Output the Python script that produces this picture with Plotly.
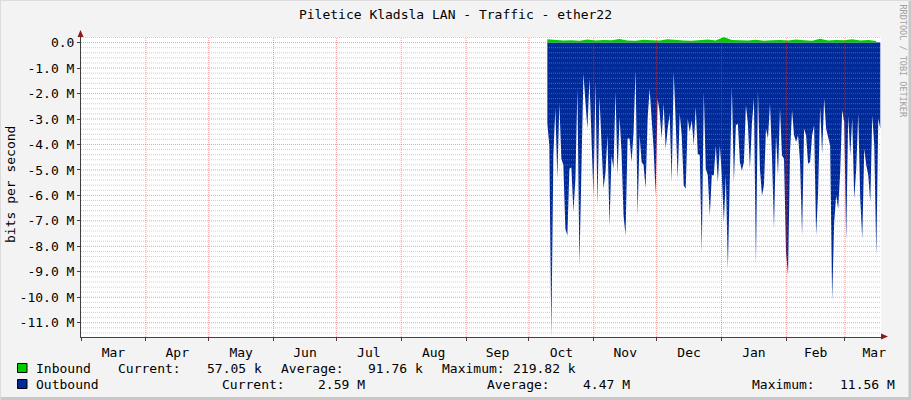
import pandas as pd
import plotly.graph_objects as go

# --- data -------------------------------------------------------------
title = "Piletice Kladsla LAN - Traffic - ether22"

# outbound traffic in Mbit/s, one sample every 23 h (drawn below zero)
outbound_start = "2022-10-09 19:00"
outbound_mbps = [
    3.18, 4.04, 11.56, 4.43, 2.59, 5.35, 2.40, 4.56, 4.82, 7.31,
    7.57, 4.95, 4.89, 6.65, 5.35, 1.81, 8.75, 5.35, 1.22, 2.33,
    3.38, 1.42, 3.64, 6.00, 1.55, 6.39, 2.14, 4.30, 5.74, 5.08,
    3.64, 7.18, 4.43, 4.95, 1.94, 5.21, 2.92, 4.30, 6.79, 7.57,
    3.77,
    3.77, 4.69, 3.51, 1.09, 6.79, 3.64, 4.69, 4.82, 5.74, 2.99,
    1.81, 3.12, 4.17, 6.00, 2.20, 2.73, 3.77, 2.40, 4.17, 3.38,
    2.79, 5.48, 1.15, 3.12, 5.35, 2.79, 3.64, 5.61, 5.74, 2.99,
    3.51, 3.05, 4.04, 2.53, 4.36, 4.43, 8.23, 1.94, 4.95, 5.21,
    6.79, 5.21,
    5.21, 4.04, 5.48, 4.04, 5.21, 7.05, 5.21, 8.88, 5.48, 1.74,
    5.48, 3.25, 3.18, 4.69, 5.02, 4.69, 2.46, 3.18, 4.95, 3.18,
    2.20, 8.75, 1.87, 4.95, 6.00, 5.61, 3.38, 3.77, 2.40, 4.43,
    7.31, 3.64, 5.21, 2.59, 4.43, 4.56, 8.23, 9.14, 4.30, 2.66,
    3.64, 3.90,
    3.64, 4.69, 7.57, 3.38, 3.64, 4.76, 4.69, 3.64, 3.25, 7.57,
    5.87, 2.53, 4.36, 2.20, 3.38, 3.77, 4.04, 10.13, 7.05, 6.00,
    6.52, 5.08, 2.66, 3.12, 7.77, 2.86, 4.43, 2.99, 6.13, 4.95,
    2.79, 6.13, 7.70, 4.17, 4.82, 5.21, 6.26, 2.86, 4.04, 8.36,
    2.99, 3.38,
]

# inbound traffic in Mbit/s, one sample every 92 h
inbound_start = "2022-10-09 19:00"
inbound_mbps = [
    0.13, 0.10, 0.08, 0.09, 0.07, 0.12, 0.08, 0.10, 0.09, 0.14,
    0.08, 0.07, 0.11, 0.09, 0.08, 0.13, 0.10, 0.08, 0.07, 0.09,
    0.12, 0.08, 0.22, 0.10, 0.09, 0.08, 0.11, 0.07, 0.09, 0.10,
    0.08, 0.12, 0.09, 0.07, 0.15, 0.08, 0.10, 0.09, 0.13, 0.08,
    0.10, 0.06,
]

y_ticks = [0, -1, -2, -3, -4, -5, -6, -7, -8, -9, -10, -11]
y_ticktext = ["0.0"] + [f"{v:.1f} M" for v in y_ticks[1:]]

x_start = "2022-03-01"
x_end = "2023-03-18 05:00"

legend_in = ["Inbound", "Current:", "57.05 k", "Average:", "91.76 k", "Maximum:", "219.82 k"]
legend_out = ["Outbound", "Current:", "2.59 M", "Average:", "4.47 M", "Maximum:", "11.56 M"]

# --- layout helpers ---------------------------------------------------
W, H = 911, 400
ML, MR, MT, MB = 81, 30, 37, 63
PW, PH = W - ML - MR, H - MT - MB


def px(x):
    return (x - ML) / PW


def py(y):
    return (H - MB - y) / PH


FONT = "DejaVu Sans Mono"
BLUE = "#002A97"
GREEN = "#00CC00"

out_x = pd.date_range(outbound_start, periods=len(outbound_mbps), freq="23h")
in_x = pd.date_range(inbound_start, periods=len(inbound_mbps), freq="92h")

fig = go.Figure()

fig.add_trace(go.Scatter(
    x=out_x, y=[-v for v in outbound_mbps],
    mode="lines", line=dict(width=0, color=BLUE),
    fill="tozeroy", fillcolor=BLUE, hoverinfo="skip", showlegend=False
))
fig.add_trace(go.Scatter(
    x=in_x, y=inbound_mbps,
    mode="lines", line=dict(width=0, color=GREEN),
    fill="tozeroy", fillcolor=GREEN, hoverinfo="skip", showlegend=False
))

# grid drawn above the data, like rrdtool
minor_steps = [round(-11.4 + 0.2 * i, 1) for i in range(59)]
for v in minor_steps:
    if v in y_ticks:
        continue
    fig.add_shape(type="line", xref="paper", yref="y", x0=0, x1=1, y0=v, y1=v,
                  layer="above", line=dict(color="rgba(160,160,160,0.5)", width=1, dash="1px,1px"))
for v in y_ticks:
    fig.add_shape(type="line", xref="paper", yref="y", x0=0, x1=1, y0=v, y1=v,
                  layer="above", line=dict(color="rgba(240,60,60,0.5)", width=1, dash="1px,1px"))
for d in pd.date_range("2022-04-01", "2023-03-01", freq="MS"):
    fig.add_shape(type="line", xref="x", yref="paper", x0=d, x1=d, y0=0, y1=1,
                  layer="above", line=dict(color="rgba(240,60,60,0.5)", width=1, dash="1px,1px"))

# axis arrows
fig.add_shape(type="path", xref="paper", yref="paper", layer="above",
              path=f"M {px(77.5)} {py(37)} L {px(83.5)} {py(37)} L {px(80.5)} {py(30)} Z",
              fillcolor="#8B1A1A", line=dict(width=0))
fig.add_shape(type="path", xref="paper", yref="paper", layer="above",
              path=f"M {px(881)} {py(333.5)} L {px(881)} {py(339.5)} L {px(888)} {py(336.5)} Z",
              fillcolor="#8B1A1A", line=dict(width=0))

# frame edges
fig.add_shape(type="line", xref="paper", yref="paper", x0=px(910), x1=px(910), y0=py(0), y1=py(400),
              line=dict(color="#C8C8C8", width=3))
fig.add_shape(type="line", xref="paper", yref="paper", x0=px(0), x1=px(911), y0=py(398.5), y1=py(398.5),
              line=dict(color="#C8C8C8", width=3))
fig.add_shape(type="line", xref="paper", yref="paper", x0=px(0.5), x1=px(0.5), y0=py(0), y1=py(400),
              line=dict(color="#DCDCDC", width=1))
fig.add_shape(type="line", xref="paper", yref="paper", x0=px(0), x1=px(911), y0=py(0.5), y1=py(0.5),
              line=dict(color="#DCDCDC", width=1))

# legend squares
fig.add_shape(type="rect", xref="paper", yref="paper", x0=px(17.5), x1=px(27), y0=py(363.5), y1=py(372.5),
              fillcolor=GREEN, line=dict(color="#000000", width=1))
fig.add_shape(type="rect", xref="paper", yref="paper", x0=px(17.5), x1=px(27), y0=py(379.5), y1=py(388.5),
              fillcolor=BLUE, line=dict(color="#000000", width=1))

ann = []
in_pos = [33.7, 116, 204.5, 279, 366, 440, 511]
out_pos = [33.7, 219.6, 315.5, 485, 581, 749.6, 838]
for t, xp in zip(legend_in, in_pos):
    ann.append(dict(x=px(xp), y=py(368.5), text=t))
for t, xp in zip(legend_out, out_pos):
    ann.append(dict(x=px(xp), y=py(384.5), text=t))
for a in ann:
    fig.add_annotation(xref="paper", yref="paper", xanchor="left", yanchor="middle",
                       showarrow=False, font=dict(family=FONT, size=13, color="#000000"), **a)

fig.add_annotation(xref="paper", yref="paper", x=px(10), y=py(185), text="bits per second",
                   textangle=-90, showarrow=False, xanchor="center", yanchor="middle",
                   font=dict(family=FONT, size=13, color="#000000"))
fig.add_annotation(xref="paper", yref="paper", x=px(902.5), y=py(61), text="RRDTOOL / TOBI OETIKER",
                   textangle=90, showarrow=False, xanchor="center", yanchor="middle",
                   font=dict(family=FONT, size=8.5, color="#A0A0A0"))

fig.update_layout(
    width=W, height=H,
    margin=dict(l=ML, r=MR, t=MT, b=MB, pad=0),
    paper_bgcolor="#F3F3F3", plot_bgcolor="#FFFFFF",
    title=dict(text=title, x=0.5, xref="container", y=1 - 14 / H, yanchor="middle",
               font=dict(family=FONT, size=13, color="#000000")),
    font=dict(family=FONT, size=13, color="#000000"),
    showlegend=False,
    xaxis=dict(
        type="date", range=[x_start, x_end], dtick="M1", tick0="2022-03-01",
        ticklabelmode="period", tickformat="%b", showgrid=False, zeroline=False,
        showline=True, linecolor="#404040", linewidth=1,
        ticks="outside", ticklen=3, tickcolor="#404040",
        tickfont=dict(family=FONT, size=13, color="#000000"),
    ),
    yaxis=dict(
        range=[-11.56, 0.22], tickmode="array", tickvals=y_ticks, ticktext=y_ticktext,
        showgrid=False, zeroline=False, showline=True, linecolor="#404040", linewidth=1,
        ticks="outside", ticklen=3, tickcolor="#404040",
        tickfont=dict(family=FONT, size=13, color="#000000"),
    ),
)

# the page's default body margin would shift the figure off the window
fig.write_html("out.html", config={"displayModeBar": False},
               post_script="document.body.style.margin='0';")
